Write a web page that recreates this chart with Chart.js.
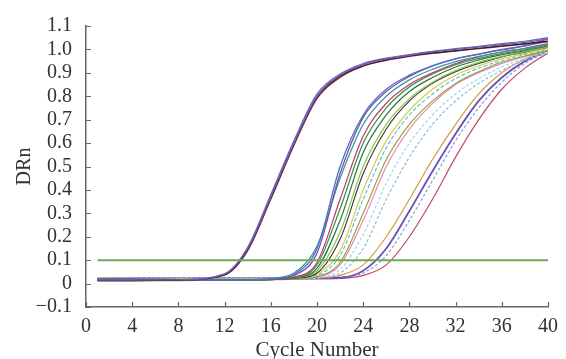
<!DOCTYPE html>
<html>
<head>
<meta charset="utf-8">
<script src="https://cdn.jsdelivr.net/npm/chart.js@4.4.1/dist/chart.umd.min.js"></script>
<style>
  html, body { margin: 0; padding: 0; background: #fff; }
  #wrap { width: 566px; height: 359px; }
</style>
</head>
<body>
<div id="wrap"><canvas id="ampChart" width="566" height="359"></canvas></div>
<script>
var cycles = [1, 4, 8, 12, 14, 16, 18, 20, 22, 24, 26, 28, 30, 32, 34, 36, 38, 40];

// early group (Ct ~13)
var earlyPurple  = [0.015,0.015,0.016,0.040,0.150,0.370,0.600,0.800,0.890,0.935,0.960,0.975,0.990,1.000,1.010,1.020,1.030,1.045];
var earlyBlack   = [0.012,0.013,0.015,0.038,0.145,0.365,0.595,0.795,0.885,0.930,0.955,0.972,0.985,0.995,1.005,1.015,1.025,1.035];
var earlyDarkRed = [0.014,0.014,0.015,0.036,0.140,0.360,0.590,0.790,0.880,0.928,0.953,0.970,0.983,0.993,1.003,1.013,1.023,1.033];
var earlyBlue    = [0.018,0.017,0.017,0.042,0.155,0.380,0.610,0.810,0.895,0.940,0.963,0.978,0.992,1.003,1.013,1.025,1.035,1.050];

// main group (Ct ~19-24)
var mainBlue      = [0.020,0.020,0.017,0.016,0.017,0.020,0.040,0.150,0.500,0.720,0.830,0.890,0.930,0.960,0.980,1.000,1.015,1.035];
var mainPurple    = [0.018,0.018,0.016,0.015,0.016,0.019,0.035,0.130,0.470,0.710,0.820,0.885,0.930,0.960,0.980,0.998,1.015,1.045];
var mainTeal      = [0.015,0.015,0.015,0.015,0.016,0.022,0.045,0.160,0.450,0.680,0.800,0.870,0.915,0.948,0.970,0.988,1.003,1.020];
var mainMagenta   = [0.020,0.019,0.017,0.016,0.016,0.018,0.028,0.090,0.360,0.630,0.770,0.850,0.900,0.940,0.968,0.990,1.005,1.025];
var mainGreen     = [0.012,0.012,0.013,0.014,0.015,0.017,0.026,0.080,0.320,0.600,0.750,0.840,0.895,0.935,0.962,0.982,0.998,1.020];
var mainDarkGreen = [0.016,0.016,0.016,0.016,0.016,0.018,0.025,0.065,0.270,0.560,0.720,0.820,0.880,0.925,0.955,0.978,0.995,1.015];
var mainLightGreen= [0.020,0.020,0.020,0.020,0.020,0.021,0.025,0.055,0.220,0.500,0.680,0.790,0.860,0.910,0.945,0.970,0.990,1.010];
var mainBlack     = [0.015,0.015,0.015,0.015,0.015,0.017,0.022,0.045,0.190,0.470,0.660,0.780,0.855,0.905,0.940,0.968,0.988,1.010];
var mainYellow    = [0.025,0.022,0.020,0.020,0.020,0.021,0.023,0.040,0.140,0.400,0.610,0.740,0.830,0.890,0.930,0.960,0.982,1.005];
var mainCyan      = [0.018,0.018,0.018,0.018,0.018,0.019,0.021,0.035,0.120,0.360,0.580,0.720,0.810,0.875,0.920,0.952,0.978,1.000];
var mainOlive     = [0.015,0.015,0.015,0.015,0.015,0.016,0.019,0.030,0.090,0.300,0.530,0.680,0.780,0.855,0.905,0.945,0.972,0.995];
var mainPink      = [0.022,0.020,0.020,0.019,0.019,0.019,0.020,0.028,0.080,0.270,0.500,0.660,0.770,0.850,0.900,0.940,0.970,0.995];
var mainLightCyan = [0.020,0.020,0.020,0.020,0.020,0.020,0.021,0.026,0.060,0.210,0.430,0.600,0.720,0.810,0.875,0.925,0.962,0.990];
var mainSkyBlue   = [0.018,0.018,0.018,0.018,0.018,0.018,0.019,0.023,0.045,0.150,0.360,0.540,0.680,0.780,0.855,0.910,0.955,0.985];

// late group (Ct ~25-27)
var lateOrange  = [0.020,0.020,0.020,0.020,0.020,0.020,0.022,0.025,0.035,0.080,0.200,0.360,0.530,0.680,0.810,0.900,0.960,0.995];
var latePurple  = [0.022,0.022,0.022,0.022,0.022,0.022,0.022,0.023,0.025,0.055,0.150,0.310,0.480,0.640,0.780,0.880,0.950,0.995];
var lateBlue    = [0.025,0.025,0.025,0.025,0.025,0.025,0.025,0.025,0.028,0.045,0.120,0.270,0.440,0.610,0.750,0.860,0.940,0.990];
var lateRed     = [0.020,0.020,0.020,0.020,0.020,0.020,0.020,0.020,0.022,0.035,0.080,0.200,0.360,0.540,0.700,0.830,0.920,0.985];

var thresholdValue = 0.1;
var thresholdCycles = [1, 40];

var xTickValues = [0, 4, 8, 12, 16, 20, 24, 28, 32, 36, 40];
var yTickValues = [-0.1, 0, 0.1, 0.2, 0.3, 0.4, 0.5, 0.6, 0.7, 0.8, 0.9, 1.0, 1.1];
var yTickLabels = ['\u22120.1', '0', '0.1', '0.2', '0.3', '0.4', '0.5', '0.6', '0.7', '0.8', '0.9', '1.0', '1.1'];

var curves = [
	[earlyPurple, '#7a55a8', 1.4, []], [earlyBlack, '#2a2226', 1.2, []],
	[earlyDarkRed, '#8c2a4a', 1.2, []], [earlyBlue, '#5a6cc0', 1.2, []],
	[mainBlue, '#4a72c8', 1.3, []], [mainPurple, '#7b4fa8', 1.3, []],
	[mainTeal, '#3a9a9a', 1.2, []], [mainMagenta, '#c0357a', 1.2, []],
	[mainGreen, '#3c9a3c', 1.3, []], [mainDarkGreen, '#2f6f4f', 1.2, []],
	[mainLightGreen, '#8cc63f', 1.2, []], [mainBlack, '#333333', 1.1, []],
	[mainYellow, '#d8c84a', 1.2, []], [mainCyan, '#56c2d0', 1.2, [4, 2]],
	[mainOlive, '#9a9a3a', 1.1, []], [mainPink, '#e080b0', 1.1, []],
	[mainLightCyan, '#9fd8e4', 1.2, [3, 2]], [mainSkyBlue, '#8fb8e0', 1.2, [3, 2]],
	[lateOrange, '#d09a40', 1.2, []], [latePurple, '#6a4fb8', 1.8, []],
	[lateBlue, '#7fa0d8', 1.2, [3, 2]], [lateRed, '#c04868', 1.2, []]
];

function buildDatasets(){
	var sets = [{
		label: 'threshold',
		data: thresholdCycles.map(function(c){ return {x: c, y: thresholdValue}; }),
		borderColor: '#6aaa55',
		borderWidth: 2,
		pointRadius: 0
	}];
	curves.forEach(function(cv, i){
		sets.push({
			label: 'well ' + (i + 1),
			data: cycles.map(function(c, k){ return {x: c, y: cv[0][k]}; }),
			borderColor: cv[1],
			borderWidth: cv[2],
			borderDash: cv[3],
			pointRadius: 0,
			cubicInterpolationMode: 'monotone'
		});
	});
	return sets;
}

// small tick marks pointing into the plot, like the original
var innerTicks = {
	id: 'innerTicks',
	afterDraw: function(chart){
		var ctx = chart.ctx, area = chart.chartArea;
		var xs = chart.scales.x, ys = chart.scales.y;
		ctx.save();
		ctx.strokeStyle = '#666';
		ctx.lineWidth = 1.2;
		ctx.beginPath();
		yTickValues.forEach(function(v){
			var py = Math.round(ys.getPixelForValue(v)) + 0.5;
			ctx.moveTo(area.left, py);
			ctx.lineTo(area.left + 5, py);
		});
		xTickValues.forEach(function(v){
			var px = Math.round(xs.getPixelForValue(v)) + 0.5;
			ctx.moveTo(px, area.bottom);
			ctx.lineTo(px, area.bottom - 5);
		});
		ctx.stroke();
		ctx.restore();
	}
};

var tickFont = {family: 'Liberation Serif', size: 20};

new Chart(document.getElementById('ampChart'), {
	type: 'line',
	data: {datasets: buildDatasets()},
	plugins: [innerTicks],
	options: {
		responsive: false,
		animation: false,
		layout: {padding: {left: 0, right: 15, top: 22, bottom: 0}},
		plugins: {legend: {display: false}, tooltip: {enabled: false}},
		scales: {
			x: {
				type: 'linear',
				min: 0, max: 40,
				afterBuildTicks: function(s){ s.ticks = xTickValues.map(function(v){ return {value: v}; }); },
				afterFit: function(s){ s.height = 52; },
				grid: {display: false, drawTicks: false},
				border: {display: true, color: '#666', width: 1.5},
				ticks: {font: tickFont, color: '#333', padding: 8, maxRotation: 0, autoSkip: false},
				title: {display: true, text: 'Cycle Number', font: {family: 'Liberation Serif', size: 21}, color: '#333', padding: {top: 0, bottom: -4}}
			},
			y: {
				min: -0.1, max: 1.1,
				afterBuildTicks: function(s){ s.ticks = yTickValues.map(function(v){ return {value: v}; }); },
				afterFit: function(s){ s.width = 86; },
				grid: {display: false, drawTicks: false},
				border: {display: true, color: '#666', width: 1.5},
				ticks: {
					font: tickFont, color: '#333', padding: 14, autoSkip: false,
					callback: function(value, index){ return yTickLabels[index]; }
				},
				title: {display: true, text: 'DRn', font: {family: 'Liberation Serif', size: 20}, color: '#333', padding: {top: 13, bottom: 0}}
			}
		}
	}
});
</script>
</body>
</html>
